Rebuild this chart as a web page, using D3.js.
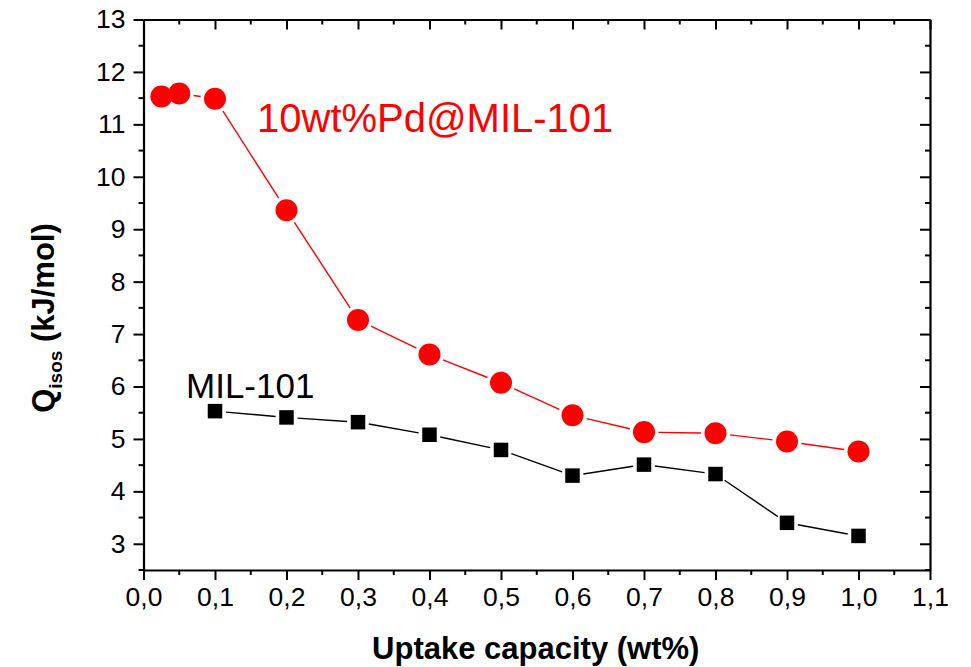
<!DOCTYPE html>
<html>
<head>
<meta charset="utf-8">
<script src="https://cdn.jsdelivr.net/npm/d3@7"></script>
<style>
  body { margin: 0; background: #fff; }
  svg { display: block; font-family: Arial, "Liberation Sans", sans-serif; }
</style>
</head>
<body>
<svg id="chart"></svg>
<script>
// uptake (wt%) and Qisos (kJ/mol)
var pdX = [0.025, 0.05, 0.1, 0.2, 0.3, 0.4, 0.5, 0.6, 0.7, 0.8, 0.9, 1.0];
var pdY = [11.53, 11.59, 11.49, 9.36, 7.27, 6.61, 6.07, 5.45, 5.13, 5.11, 4.95, 4.76];
var milX = [0.1, 0.2, 0.3, 0.4, 0.5, 0.6, 0.7, 0.8, 0.9, 1.0];
var milY = [5.53, 5.41, 5.32, 5.08, 4.79, 4.30, 4.51, 4.33, 3.40, 3.15];
var xTicks = [0, 0.1, 0.2, 0.3, 0.4, 0.5, 0.6, 0.7, 0.8, 0.9, 1.0, 1.1];
var yTicks = [3, 4, 5, 6, 7, 8, 9, 10, 11, 12, 13];

var W = 971, H = 667;
var margin = {top: 19.5, right: 41, bottom: 97, left: 143.5};
var w = W - margin.left - margin.right,
    h = H - margin.top - margin.bottom;

var svg = d3.select("#chart").attr("width", W).attr("height", H);
var g = svg.append("g").attr("transform", `translate(${margin.left},${margin.top})`);

var x = d3.scaleLinear().domain([0, 1.1]).range([0, w]);
var y = d3.scaleLinear().domain([2.5, 13]).range([h, 0]);

var fmt = d => d3.format(".1f")(d).replace(".", ",");
var xMinor = d3.range(0.05, 1.1, 0.1);
var yMinor = d3.range(2.5, 13, 1);

// bottom axis (outward ticks)
var xb = g.append("g").attr("transform", `translate(0,${h})`)
  .call(d3.axisBottom(x).tickValues(xTicks).tickFormat(fmt).tickSize(10).tickSizeOuter(0).tickPadding(7));
xb.append("g").selectAll("line").data(xMinor).join("line")
  .attr("x1", d => x(d)).attr("x2", d => x(d)).attr("y1", 0).attr("y2", 5);
// left axis
var yl = g.append("g")
  .call(d3.axisLeft(y).tickValues(yTicks).tickFormat(d3.format("d")).tickSize(10).tickSizeOuter(0).tickPadding(8));
yl.append("g").selectAll("line").data(yMinor).join("line")
  .attr("x1", 0).attr("x2", -5).attr("y1", d => y(d)).attr("y2", d => y(d));
// top & right mirror axes (inward ticks, no labels)
var xt = g.append("g")
  .call(d3.axisTop(x).tickValues(xTicks).tickFormat("").tickSize(-10).tickSizeOuter(0));
xt.append("g").selectAll("line").data(xMinor).join("line")
  .attr("x1", d => x(d)).attr("x2", d => x(d)).attr("y1", 0).attr("y2", 5);
var yr = g.append("g").attr("transform", `translate(${w},0)`)
  .call(d3.axisRight(y).tickValues(yTicks).tickFormat("").tickSize(-10).tickSizeOuter(0));
yr.append("g").selectAll("line").data(yMinor).join("line")
  .attr("x1", 0).attr("x2", -5).attr("y1", d => y(d)).attr("y2", d => y(d));

g.selectAll(".domain").attr("stroke", "#000").attr("stroke-width", 2.2);
g.selectAll(".tick line").attr("stroke", "#000").attr("stroke-width", 2);
g.selectAll("g > g > line").attr("stroke", "#000").attr("stroke-width", 2);
g.selectAll(".tick text").attr("font-size", 26.5).attr("fill", "#000")
  .attr("font-family", "Arial, 'Liberation Sans', sans-serif");

// series lines with small gaps near the markers
function gapped(xs, ys, gap, color) {
  var pts = xs.map((v, i) => [x(v), y(ys[i])]);
  var segs = d3.pairs(pts).map(([a, b]) => {
    var dx = b[0] - a[0], dy = b[1] - a[1], L = Math.hypot(dx, dy);
    if (L <= 2 * gap) return null;
    var ux = dx / L, uy = dy / L;
    return [a[0] + ux * gap, a[1] + uy * gap, b[0] - ux * gap, b[1] - uy * gap];
  }).filter(s => s);
  g.append("g").selectAll("line").data(segs).join("line")
    .attr("x1", s => s[0]).attr("y1", s => s[1])
    .attr("x2", s => s[2]).attr("y2", s => s[3])
    .attr("stroke", color).attr("stroke-width", 1.4);
}
gapped(pdX, pdY, 14.5, "#ff0000");
gapped(milX, milY, 11, "#000");

g.append("g").selectAll("circle").data(pdX).join("circle")
  .attr("cx", d => x(d)).attr("cy", (d, i) => y(pdY[i])).attr("r", 11)
  .attr("fill", "#ff0000");
var sq = 14.5;
g.append("g").selectAll("rect").data(milX).join("rect")
  .attr("x", d => x(d) - sq / 2).attr("y", (d, i) => y(milY[i]) - sq / 2)
  .attr("width", sq).attr("height", sq).attr("fill", "#000");

// series labels
svg.append("text").attr("x", 257).attr("y", 132).attr("font-size", 40)
  .attr("fill", "#ff0000").text("10wt%Pd@MIL-101");
svg.append("text").attr("x", 186).attr("y", 398).attr("font-size", 35)
  .attr("fill", "#000").text("MIL-101");

// axis titles
svg.append("text").attr("x", margin.left + w / 2 - 1).attr("y", 659)
  .attr("text-anchor", "middle").attr("font-size", 31).attr("font-weight", "bold")
  .text("Uptake capacity (wt%)");

var yt = svg.append("text")
  .attr("transform", "translate(54,318) rotate(-90)")
  .attr("text-anchor", "middle").attr("font-size", 31).attr("font-weight", "bold");
yt.append("tspan").text("Q");
yt.append("tspan").attr("font-size", 19).attr("dy", 8).text("isos");
yt.append("tspan").attr("dy", -8).text(" (kJ/mol)");
</script>
</body>
</html>
